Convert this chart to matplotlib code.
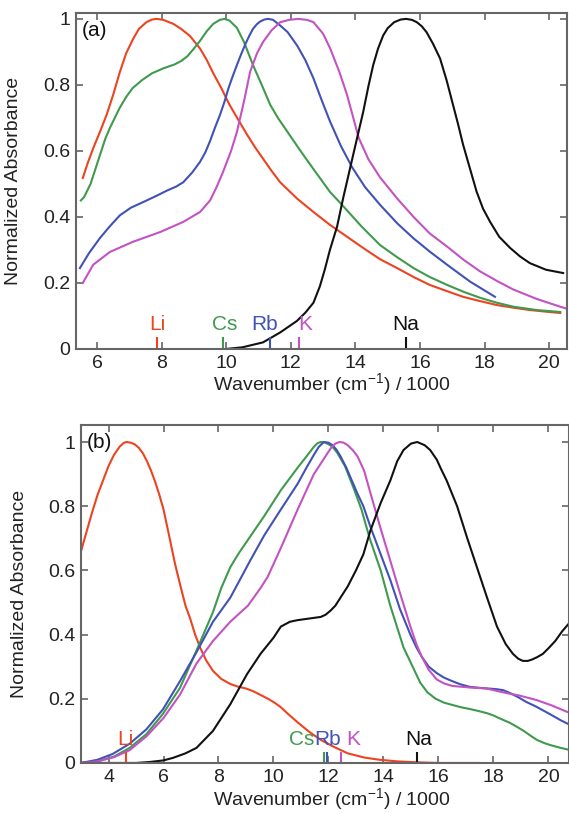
import matplotlib
matplotlib.use("Agg")
import matplotlib.pyplot as plt
from matplotlib.ticker import FuncFormatter

plt.rcParams["font.family"] = ["Liberation Sans", "DejaVu Sans"]
plt.rcParams["mathtext.default"] = "regular"

COLORS = {
    "Li": "#ec4320",
    "Cs": "#3f9a4d",
    "Rb": "#4152b6",
    "K":  "#c352c3",
    "Na": "#111111",
}

# ── panel (a) ──────────────────────────────────────────────────────────────
li_a_x = [5.56, 5.7, 5.89, 6.1, 6.3, 6.5, 6.71, 6.9, 7.12, 7.3, 7.53, 7.7, 7.85,
          8.05, 8.36, 8.6, 8.88, 9.19, 9.4, 9.6, 9.85, 10.1, 10.37, 10.64, 10.9,
          11.15, 11.4, 11.67, 12.2, 12.7, 13.21, 13.74, 14.24, 14.76, 15.29,
          15.8, 16.3, 16.84, 17.33, 17.86, 18.38, 18.89, 19.4, 19.9, 20.34]
li_a_y = [0.518, 0.56, 0.61, 0.66, 0.71, 0.77, 0.84, 0.895, 0.94, 0.97, 0.99,
          0.998, 1.0, 0.997, 0.985, 0.97, 0.948, 0.91, 0.875, 0.835, 0.79, 0.74,
          0.695, 0.65, 0.61, 0.575, 0.54, 0.505, 0.455, 0.415, 0.376, 0.34,
          0.306, 0.272, 0.245, 0.218, 0.194, 0.175, 0.158, 0.145, 0.133, 0.125,
          0.118, 0.113, 0.109]

cs_a_x = [5.5, 5.6, 5.8, 5.95, 6.1, 6.25, 6.4, 6.55, 6.7, 6.9, 7.1, 7.4, 7.7,
          8.05, 8.4, 8.6, 8.8, 9.0, 9.2, 9.4, 9.6, 9.8, 9.95, 10.1, 10.33, 10.55,
          10.83, 11.1, 11.36, 11.6, 11.88, 12.3, 12.7, 13.21, 13.58, 14.2, 14.76,
          15.29, 15.8, 16.3, 16.84, 17.35, 17.86, 18.38, 18.89, 19.6, 20.34]
cs_a_y = [0.45, 0.46, 0.50, 0.545, 0.59, 0.635, 0.67, 0.70, 0.73, 0.763, 0.79,
          0.815, 0.835, 0.85, 0.862, 0.872, 0.887, 0.91, 0.935, 0.963, 0.985,
          0.997, 1.0, 0.995, 0.973, 0.93, 0.86, 0.80, 0.74, 0.70, 0.66, 0.60,
          0.545, 0.476, 0.437, 0.37, 0.315, 0.278, 0.245, 0.218, 0.194, 0.173,
          0.155, 0.14, 0.128, 0.118, 0.112]

rb_a_x = [5.47, 5.75, 6.09, 6.4, 6.71, 7.05, 7.43, 7.8, 8.17, 8.45, 8.67, 8.95,
          9.19, 9.35, 9.5, 9.65, 9.81, 9.95, 10.07, 10.2, 10.33, 10.47, 10.6,
          10.72, 10.83, 10.95, 11.05, 11.18, 11.3, 11.45, 11.67, 11.9, 12.19,
          12.45, 12.7, 12.95, 13.21, 13.55, 13.9, 14.3, 14.76, 15.3, 15.8, 16.3,
          16.84, 17.55, 18.32]
rb_a_y = [0.245, 0.29, 0.336, 0.372, 0.405, 0.428, 0.445, 0.462, 0.48, 0.492,
          0.505, 0.535, 0.567, 0.595, 0.63, 0.67, 0.71, 0.75, 0.79, 0.826, 0.86,
          0.895, 0.925, 0.95, 0.97, 0.984, 0.992, 0.998, 1.0, 0.997, 0.98, 0.96,
          0.92, 0.875, 0.82, 0.755, 0.69, 0.615, 0.55, 0.49, 0.437, 0.38, 0.335,
          0.295, 0.255, 0.204, 0.158]

k_a_x = [5.56, 5.88, 6.4, 7.12, 7.95, 8.67, 9.19, 9.5, 9.7, 9.9, 10.15, 10.33,
         10.55, 10.74, 10.95, 11.14, 11.4, 11.67, 11.95, 12.22, 12.5, 12.7, 13.0,
         13.22, 13.5, 13.74, 14.1, 14.4, 14.76, 15.3, 15.8, 16.3, 16.84, 17.35,
         17.86, 18.4, 18.89, 19.6, 20.34, 20.55]
k_a_y = [0.20, 0.255, 0.294, 0.325, 0.354, 0.385, 0.415, 0.45, 0.49, 0.536, 0.6,
         0.657, 0.75, 0.84, 0.895, 0.93, 0.965, 0.99, 0.997, 1.0, 0.997, 0.99,
         0.955, 0.91, 0.84, 0.77, 0.64, 0.575, 0.52, 0.455, 0.40, 0.35, 0.31,
         0.27, 0.235, 0.205, 0.18, 0.152, 0.128, 0.122]

na_a_x = [10.0, 10.5, 11.14, 11.67, 12.19, 12.45, 12.7, 12.9, 13.05, 13.21,
          13.43, 13.62, 13.93, 14.24, 14.4, 14.55, 14.7, 14.86, 15.0, 15.2, 15.4,
          15.57, 15.75, 15.9, 16.05, 16.2, 16.4, 16.62, 16.82, 17.02, 17.18,
          17.33, 17.55, 17.75, 17.95, 18.17, 18.45, 18.79, 19.1, 19.4, 19.9,
          20.43]
na_a_y = [0.0, 0.005, 0.02, 0.05, 0.085, 0.11, 0.14, 0.19, 0.24, 0.3, 0.37,
          0.457, 0.588, 0.718, 0.795, 0.86, 0.91, 0.95, 0.972, 0.99, 0.998, 1.0,
          0.997, 0.99, 0.978, 0.96, 0.925, 0.88, 0.815, 0.74, 0.68, 0.62, 0.545,
          0.477, 0.425, 0.385, 0.34, 0.306, 0.28, 0.26, 0.24, 0.23]

marks_a = {"Li": 7.86, "Cs": 9.91, "Rb": 11.37, "K": 12.25, "Na": 15.57}
labels_a = {"Li": 7.86, "Cs": 9.96, "Rb": 11.2, "K": 12.44, "Na": 15.57}

# ── panel (b) ──────────────────────────────────────────────────────────────
li_b_x = [3.0, 3.2, 3.4, 3.6, 3.8, 4.0, 4.2, 4.4, 4.55, 4.65, 4.8, 4.95, 5.1,
          5.25, 5.4, 5.55, 5.7, 5.85, 6.0, 6.2, 6.42, 6.65, 6.8, 6.97, 7.15,
          7.33, 7.55, 7.8, 8.1, 8.43, 8.7, 9.0, 9.25, 9.53, 9.8, 10.0, 10.25,
          10.5, 10.7, 10.9, 11.3, 11.72, 12.2, 12.7, 13.3, 13.85, 14.5, 15.2,
          16.0, 17.5]
li_b_y = [0.66, 0.72, 0.78, 0.835, 0.88, 0.925, 0.96, 0.985, 0.997, 1.0, 0.998,
          0.993, 0.982, 0.965, 0.94, 0.91, 0.875, 0.835, 0.79, 0.71, 0.62, 0.54,
          0.49, 0.45, 0.40, 0.36, 0.32, 0.287, 0.262, 0.246, 0.238, 0.232, 0.224,
          0.212, 0.2, 0.19, 0.175, 0.155, 0.14, 0.125, 0.097, 0.072, 0.05, 0.03,
          0.017, 0.01, 0.005, 0.002, 0.0, 0.0]

cs_b_x = [3.0, 3.6, 4.2, 4.77, 5.38, 5.98, 6.6, 7.2, 7.8, 8.1, 8.43, 8.75, 9.07,
          9.67, 10.27, 10.88, 11.2, 11.47, 11.6, 11.72, 11.85, 12.0, 12.15,
          12.33, 12.6, 12.9, 13.2, 13.5, 13.9, 14.25, 14.73, 15.34, 15.6, 15.9,
          16.2, 16.54, 16.85, 17.15, 17.45, 17.77, 18.0, 18.2, 18.6, 18.85,
          19.1, 19.35, 19.58, 19.85, 20.1, 20.45, 20.8]
cs_b_y = [0.0, 0.005, 0.02, 0.047, 0.09, 0.153, 0.234, 0.35, 0.47, 0.545, 0.61,
          0.655, 0.695, 0.77, 0.85, 0.92, 0.955, 0.985, 0.996, 1.0, 0.999, 0.993,
          0.985, 0.965, 0.925, 0.86, 0.79, 0.70, 0.60, 0.49, 0.36, 0.25, 0.22,
          0.2, 0.188, 0.18, 0.173, 0.168, 0.162, 0.155, 0.148, 0.14, 0.125,
          0.113, 0.1, 0.085, 0.072, 0.062, 0.055, 0.047, 0.04]

rb_b_x = [3.0, 3.6, 4.15, 4.77, 5.38, 5.98, 6.6, 7.2, 7.8, 8.43, 9.15, 9.67,
          10.27, 10.88, 11.2, 11.47, 11.65, 11.83, 12.0, 12.15, 12.3, 12.44,
          12.65, 12.85, 13.05, 13.27, 13.53, 13.9, 14.25, 14.6, 14.98, 15.2,
          15.4, 15.65, 15.94, 16.2, 16.5, 16.8, 17.15, 17.5, 17.8, 18.1, 18.35,
          18.6, 18.9, 19.2, 19.57, 20.1, 20.45, 20.8]
rb_b_y = [0.0, 0.01, 0.028, 0.06, 0.105, 0.167, 0.255, 0.345, 0.44, 0.515, 0.63,
          0.71, 0.79, 0.87, 0.92, 0.96, 0.985, 1.0, 0.998, 0.99, 0.975, 0.955,
          0.92, 0.88, 0.84, 0.80, 0.735, 0.65, 0.57, 0.48, 0.40, 0.36, 0.33,
          0.30, 0.28, 0.266, 0.255, 0.245, 0.237, 0.234, 0.232, 0.23, 0.227,
          0.218, 0.205, 0.19, 0.175, 0.15, 0.133, 0.118]

k_b_x = [3.0, 3.6, 4.2, 4.77, 5.38, 6.0, 6.6, 7.2, 7.8, 8.43, 9.07, 9.53, 9.79,
         10.27, 10.88, 11.47, 12.08, 12.25, 12.4, 12.55, 12.7, 12.88, 13.06,
         13.3, 13.53, 13.9, 14.25, 14.6, 14.98, 15.2, 15.4, 15.65, 15.94, 16.2,
         16.5, 17.15, 17.75, 18.35, 18.95, 19.57, 20.1, 20.8]
k_b_y = [0.0, 0.005, 0.018, 0.04, 0.083, 0.14, 0.213, 0.31, 0.38, 0.44, 0.49,
         0.545, 0.58, 0.67, 0.79, 0.90, 0.98, 0.995, 1.0, 0.998, 0.99, 0.975,
         0.955, 0.91, 0.84, 0.73, 0.63, 0.53, 0.425, 0.37, 0.33, 0.29, 0.26,
         0.248, 0.24, 0.235, 0.232, 0.22, 0.21, 0.196, 0.18, 0.155]

na_b_x = [3.0, 4.0, 5.0, 5.5, 6.0, 6.35, 6.8, 7.2, 7.8, 8.43, 9.04, 9.53, 10.0,
          10.27, 10.6, 10.88, 11.3, 11.72, 11.9, 12.08, 12.25, 12.4, 12.7, 13.0,
          13.27, 13.53, 13.9, 14.25, 14.5, 14.73, 15.0, 15.23, 15.5, 15.7, 15.94,
          16.1, 16.3, 16.68, 17.05, 17.4, 17.75, 18.13, 18.45, 18.71, 18.9,
          19.07, 19.25, 19.4, 19.6, 19.8, 20.0, 20.25, 20.5, 20.8]
na_b_y = [0.0, 0.0, 0.0, 0.003, 0.008, 0.016, 0.03, 0.047, 0.1, 0.183, 0.277,
          0.34, 0.39, 0.425, 0.44, 0.445, 0.45, 0.455, 0.462, 0.475, 0.49, 0.51,
          0.55, 0.6, 0.65, 0.725, 0.81, 0.88, 0.94, 0.975, 0.995, 1.0, 0.99,
          0.975, 0.945, 0.915, 0.88, 0.80, 0.70, 0.61, 0.52, 0.425, 0.37, 0.34,
          0.325, 0.318, 0.318, 0.322, 0.33, 0.34, 0.357, 0.38, 0.41, 0.44]

marks_b = {"Li": 4.63, "Cs": 11.82, "Rb": 11.95, "K": 12.44, "Na": 15.22}
labels_b = {"Li": 4.63, "Cs": 11.03, "Rb": 11.97, "K": 12.9, "Na": 15.27}

xticks_a = [6, 8, 10, 12, 14, 16, 18, 20]
xticks_b = [4, 6, 8, 10, 12, 14, 16, 18, 20]
yticks = [0, 0.2, 0.4, 0.6, 0.8, 1.0]


def style_axes(ax, xlim, ylim, xticks):
    ax.set_xlim(*xlim)
    ax.set_ylim(*ylim)
    ax.set_xticks(xticks)
    ax.set_yticks(yticks)
    fmt = FuncFormatter(lambda v, p: f"{v:g}")
    ax.xaxis.set_major_formatter(fmt)
    ax.yaxis.set_major_formatter(fmt)
    ax.tick_params(direction="in", top=True, right=True, length=5, width=1.2,
                   color="#666666", labelsize=14, labelcolor="#222222", pad=4)
    for s in ax.spines.values():
        s.set_color("#666666")
        s.set_linewidth(1.5)
    ax.set_xlabel("Wavenumber (cm$^{-1}$) / 1000", fontsize=14, color="#222222")
    ax.set_ylabel("Normalized Absorbance", fontsize=14, color="#222222")


def draw_panel(ax, curves, marks, labels, tag):
    for name, xs, ys in curves:
        ax.plot(xs, ys, color=COLORS[name], linewidth=1.5)
    for name, xm in marks.items():
        ax.vlines(xm, 0, 0.035, color=COLORS[name], linewidth=1.5)
    for name, xl in labels.items():
        ax.text(xl, 0.045, name, color=COLORS[name], fontsize=15,
                ha="center", va="bottom")
    ax.text(0.012, 0.975, tag, transform=ax.transAxes, fontsize=15,
            ha="left", va="top", color="#111111")


fig = plt.figure(figsize=(5.69, 8.14), dpi=100)

ax1 = fig.add_axes([0.1336, 0.5713, 0.8629, 0.4128])
draw_panel(ax1, [("Li", li_a_x, li_a_y), ("Cs", cs_a_x, cs_a_y),
                 ("Rb", rb_a_x, rb_a_y), ("K", k_a_x, k_a_y),
                 ("Na", na_a_x, na_a_y)], marks_a, labels_a, "(a)")
style_axes(ax1, (5.35, 20.55), (0, 1.018), xticks_a)
ax1.yaxis.set_label_coords(-0.11, 0.5)
ax1.xaxis.set_label_coords(0.52, -0.065)

ax2 = fig.add_axes([0.1424, 0.0627, 0.8576, 0.4152])
draw_panel(ax2, [("Li", li_b_x, li_b_y), ("Cs", cs_b_x, cs_b_y),
                 ("Rb", rb_b_x, rb_b_y), ("K", k_b_x, k_b_y),
                 ("Na", na_b_x, na_b_y)], marks_b, labels_b, "(b)")
style_axes(ax2, (3, 20.75), (0, 1.053), xticks_b)
ax2.yaxis.set_label_coords(-0.109, 0.5)
ax2.xaxis.set_label_coords(0.514, -0.068)

fig.savefig("out.png", dpi=100)
